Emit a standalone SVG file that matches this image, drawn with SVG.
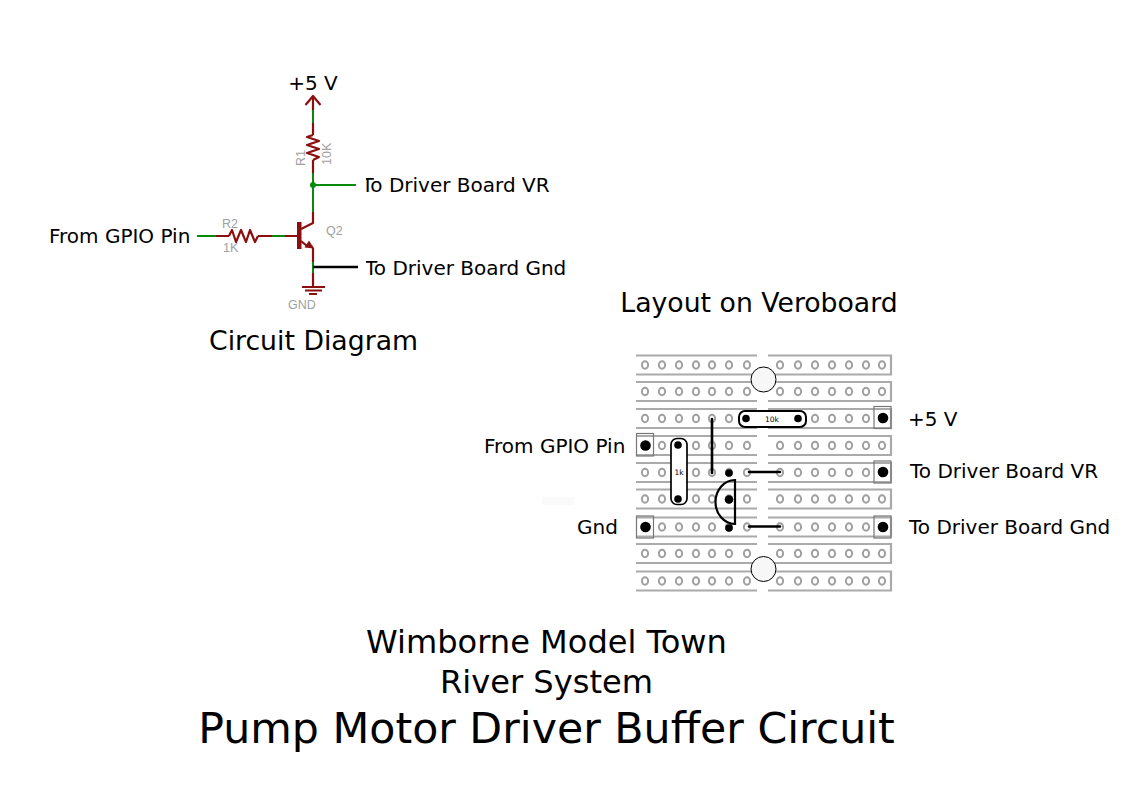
<svg xmlns="http://www.w3.org/2000/svg" width="1123" height="794" viewBox="0 0 1123 794">
<style>
text{font-family:"DejaVu Sans",sans-serif;fill:#000}
.l{font-size:20px}
text.g{font-family:"Liberation Sans",Arial,sans-serif;font-size:12.5px;fill:#a0a0a0}
.sm{font-size:7.5px}
.gw{stroke:#0a8a0a;stroke-width:2;fill:none}
.rw{stroke:#8b0f0f;stroke-width:2.2;fill:none;stroke-linejoin:round}
.rail{stroke:#aaa;stroke-width:2.2;fill:none}
.h{fill:#fff;stroke:#a0a0a0;stroke-width:2}
.p{fill:#000}
.pad{fill:none;stroke:#777;stroke-width:1.200}
.k{fill:none;stroke:#000;stroke-width:2.600;stroke-linecap:round}
.b{fill:#fff;stroke:#000;stroke-width:2}
.hole{fill:#f7f7f7;stroke:#000;stroke-width:1}
</style>
<defs>
<g id="row">
<path class="rail" d="M636 -9.5H757M636 9.5H757M768 -9.5H891V9.5H768"/>
<ellipse class="h" cx="645" rx="3.100" ry="3.800"/><ellipse class="h" cx="662" rx="3.100" ry="3.800"/><ellipse class="h" cx="679" rx="3.100" ry="3.800"/><ellipse class="h" cx="696" rx="3.100" ry="3.800"/><ellipse class="h" cx="712" rx="3.100" ry="3.800"/><ellipse class="h" cx="729" rx="3.100" ry="3.800"/><ellipse class="h" cx="747" rx="3.100" ry="3.800"/>
<ellipse class="h" cx="780" rx="3.100" ry="3.800"/><ellipse class="h" cx="798" rx="3.100" ry="3.800"/><ellipse class="h" cx="815" rx="3.100" ry="3.800"/><ellipse class="h" cx="832" rx="3.100" ry="3.800"/><ellipse class="h" cx="849" rx="3.100" ry="3.800"/><ellipse class="h" cx="866" rx="3.100" ry="3.800"/><ellipse class="h" cx="882" rx="3.100" ry="3.800"/>
</g>
</defs>
<rect width="1123" height="794" fill="#fff"/>
<rect x="542" y="497" width="32" height="8" fill="#fafafa"/>

<g id="connectors">
<path class="gw" d="M313 110V123M313 173V212M313 185H356M197 236H216M272 236H285M313 262V273"/>
<path d="M313 267H358" stroke="#000" stroke-width="2.600" fill="none"/>
<path class="rw" d="M305.500 105L313 96L320.500 105M313 96V110M313 123V135M313 160V173M216 236H229M258 236H272M285 236H298M313 212V223L301 229M313 248V262M313 273V287"/>
</g>

<g id="circuit">
<circle cx="313" cy="185" r="3" fill="#0a8a0a"/>
<path class="rw" d="M313 135L307 137L319 141L307 145L319 149L307 153L319 157L313 160"/>
<path class="rw" d="M229 236L232 230L236 242L241 230L246 242L250 230L255 242L258 236"/>
<rect x="297" y="222" width="4.500" height="27" fill="#8b0f0f"/>
<path class="rw" d="M301 241L307 246H311L313 248"/>
<path d="M304.500 247.500L309 240.500L314 248.500Z" fill="#8b0f0f"/>
<path class="rw" d="M302 287H325M305 290.500H322M309 294H317"/>
<text class="g" transform="translate(305 166) rotate(-90)">R1</text>
<text class="g" transform="translate(331 165) rotate(-90)">10K</text>
<text class="g" x="222" y="228">R2</text>
<text class="g" x="223" y="252">1K</text>
<text class="g" x="326" y="235">Q2</text>
<text class="g" x="288" y="309">GND</text>
</g>

<g id="veroboard">
<use href="#row" y="365"/><use href="#row" y="391.500"/><use href="#row" y="418.500"/><use href="#row" y="445.500"/><use href="#row" y="472.500"/><use href="#row" y="499"/><use href="#row" y="527"/><use href="#row" y="553.500"/><use href="#row" y="581"/>
<circle class="hole" cx="763.500" cy="379.500" r="12.500"/>
<circle class="hole" cx="763.500" cy="569" r="12.500"/>
<rect class="pad" x="636.500" y="433.500" width="17" height="22.500"/>
<rect class="pad" x="636.500" y="516" width="17" height="22"/>
<rect class="pad" x="874" y="406.500" width="17" height="22"/>
<rect class="pad" x="874" y="461" width="17" height="22"/>
<rect class="pad" x="874" y="516" width="17" height="22"/>
<circle class="p" cx="645.500" cy="445.500" r="5.300"/><circle class="p" cx="645.500" cy="527" r="5.300"/>
<circle class="p" cx="883" cy="418" r="5.300"/><circle class="p" cx="883" cy="472" r="5.300"/><circle class="p" cx="883" cy="527" r="5.300"/>
<path class="k" d="M712 419V473M749 472H780M749 526.500H780"/>
<rect class="b" x="739" y="411" width="67" height="16" rx="6"/>
<circle class="p" cx="746" cy="418.500" r="3.800"/><circle class="p" cx="798" cy="418.500" r="3.800"/>
<text class="sm" x="772" y="422" text-anchor="middle">10k</text>
<rect class="b" x="671" y="438.500" width="16" height="66" rx="6" style="stroke-width:1.700"/>
<circle class="p" cx="678" cy="445" r="3.800"/><circle class="p" cx="678" cy="499" r="3.800"/>
<text class="sm" x="679" y="475" text-anchor="middle">1k</text>
<circle class="p" cx="729" cy="473" r="3.800"/><circle class="p" cx="729" cy="499.500" r="4.300"/><circle class="p" cx="729" cy="528" r="3.800"/>
<path class="k" d="M735 480V524A19.500 22 0 0 1 735 480Z" style="stroke-width:2.200"/>
</g>

<g id="labels">
<text class="l" x="313" y="90" text-anchor="middle">+5 V</text>
<text class="l" x="49" y="243">From GPIO Pin</text>
<text class="l" x="361.500" y="192">To Driver Board VR</text>
<rect x="358" y="174" width="8" height="22" fill="#fff"/>
<text class="l" x="365" y="275">To Driver Board Gnd</text>
<rect x="359" y="257" width="7" height="22" fill="#fff"/>
<text x="313.500" y="350" text-anchor="middle" font-size="26.700">Circuit Diagram</text>
<text x="759" y="312" text-anchor="middle" font-size="26.700">Layout on Veroboard</text>
<text class="l" x="908" y="426">+5 V</text>
<text class="l" x="484" y="452.500">From GPIO Pin</text>
<text class="l" x="910" y="478">To Driver Board VR</text>
<text class="l" x="577" y="534">Gnd</text>
<text class="l" x="909" y="533.500">To Driver Board Gnd</text>
<text x="546.500" y="653" text-anchor="middle" font-size="32.100">Wimborne Model Town</text>
<text x="546.500" y="693" text-anchor="middle" font-size="32.100">River System</text>
<text x="546.500" y="743" text-anchor="middle" font-size="42.700">Pump Motor Driver Buffer Circuit</text>
</g>
</svg>
